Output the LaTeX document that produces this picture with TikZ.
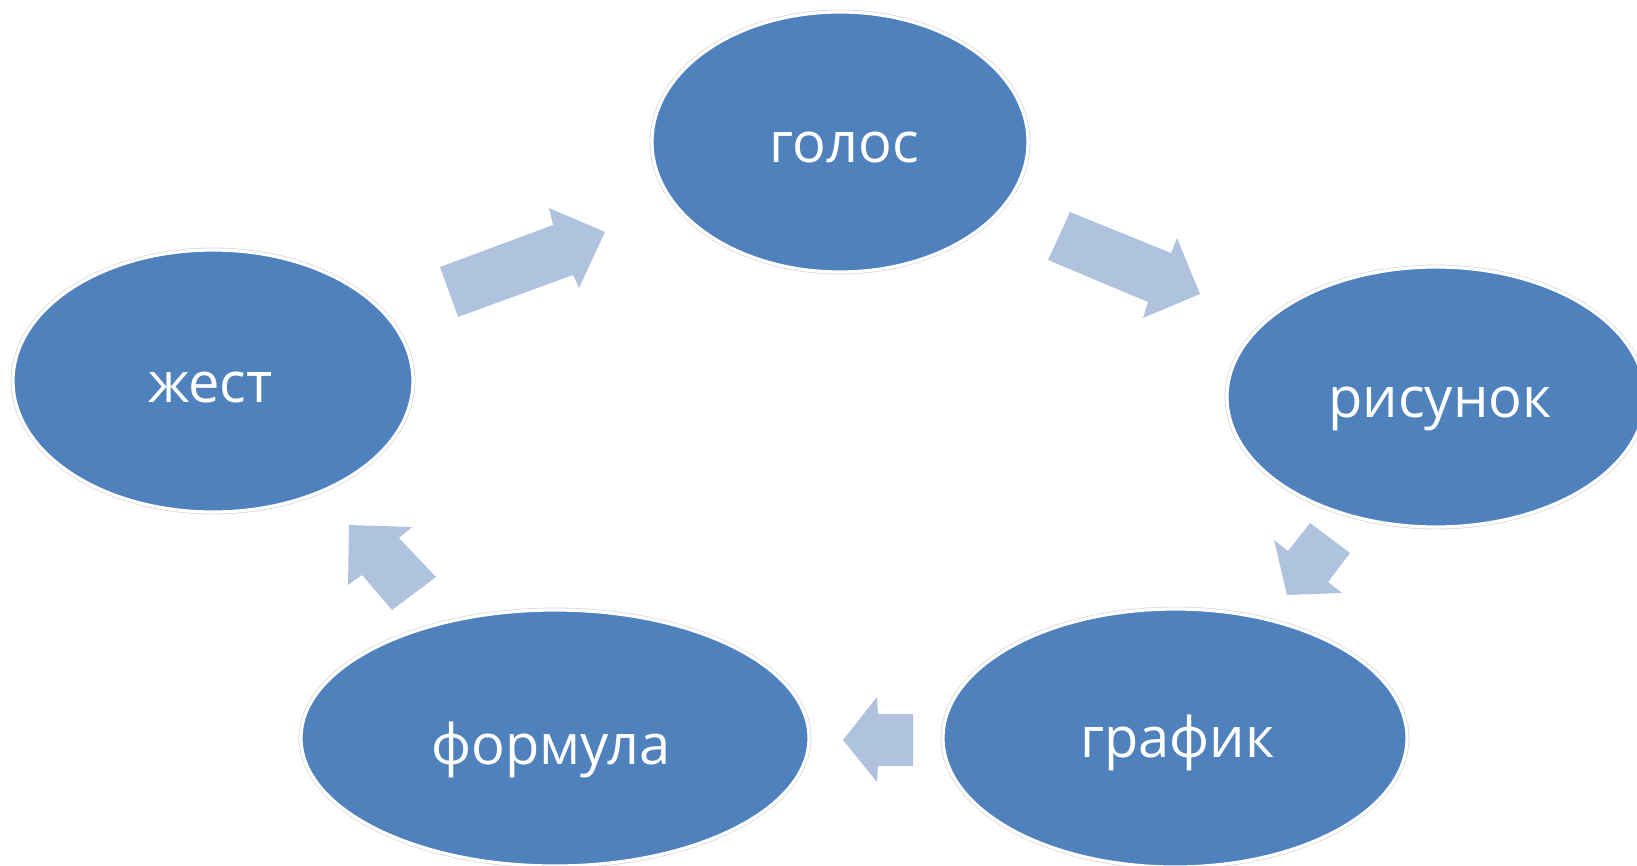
\documentclass[tikz,border=0pt]{standalone}
\usepackage{fontspec}
\setmainfont{Open Sans}
\usetikzlibrary{shapes.geometric}
\definecolor{ellblue}{RGB}{79,129,189}
\definecolor{arrblue}{RGB}{176,195,222}
\tikzset{
  ell/.style={ellipse, inner sep=0pt, fill=ellblue, draw=white, line width=1.6pt,
    preaction={draw=black!14, line width=2.4pt}},
  lbl/.style={anchor=base, text=white, inner sep=0pt,
    font=\fontsize{28pt}{34pt}\selectfont},
  blockarrow/.style={fill=arrblue}
}
\begin{document}
\begin{tikzpicture}[x=0.5pt,y=-0.5pt]
\useasboundingbox (0,0) rectangle (1637,866);
% ellipses
\node[ell, minimum width=376pt*0.5, minimum height=260pt*0.5] (golos) at (840,142) {};
\node[ell, minimum width=418pt*0.5, minimum height=260pt*0.5] (risunok) at (1436,397) {};
\node[ell, minimum width=400pt*0.5, minimum height=262pt*0.5] (zhest) at (213,381) {};
\node[ell, minimum width=508pt*0.5, minimum height=256pt*0.5] (formula) at (555,738) {};
\node[ell, minimum width=464pt*0.5, minimum height=258pt*0.5] (grafik) at (1175,738) {};
% labels
\node[lbl] (tgolos) at (844,163) {голос};
\node[lbl] (trisunok) at (1440,417) {рисунок};
\node[lbl] (tzhest) at (210.5,402) {жест};
\node[lbl] (tformula) at (551,764) {формула};
\node[lbl] (tgrafik) at (1177.5,757) {график};
% block arrows
\fill[blockarrow] (458,317) -- (440,267) -- (553,225) -- (549,208) -- (605,232) -- (579,288) -- (573,275) -- cycle;
\fill[blockarrow] (1070,212) -- (1048,260) -- (1148,302) -- (1143,318) -- (1200,294) -- (1177,238) -- (1171,253) -- cycle;
\fill[blockarrow] (1310,523) -- (1350,553) -- (1328,582) -- (1342,593) -- (1287,595) -- (1274,540) -- (1288,551) -- cycle;
\fill[blockarrow] (913,714) -- (913,766) -- (878,766) -- (877,782) -- (843,740) -- (877,697) -- (878,714) -- cycle;
\fill[blockarrow] (349,525) -- (412,527) -- (399,538) -- (436,577) -- (392,610) -- (362,575) -- (348,585) -- cycle;
\end{tikzpicture}
\end{document}
